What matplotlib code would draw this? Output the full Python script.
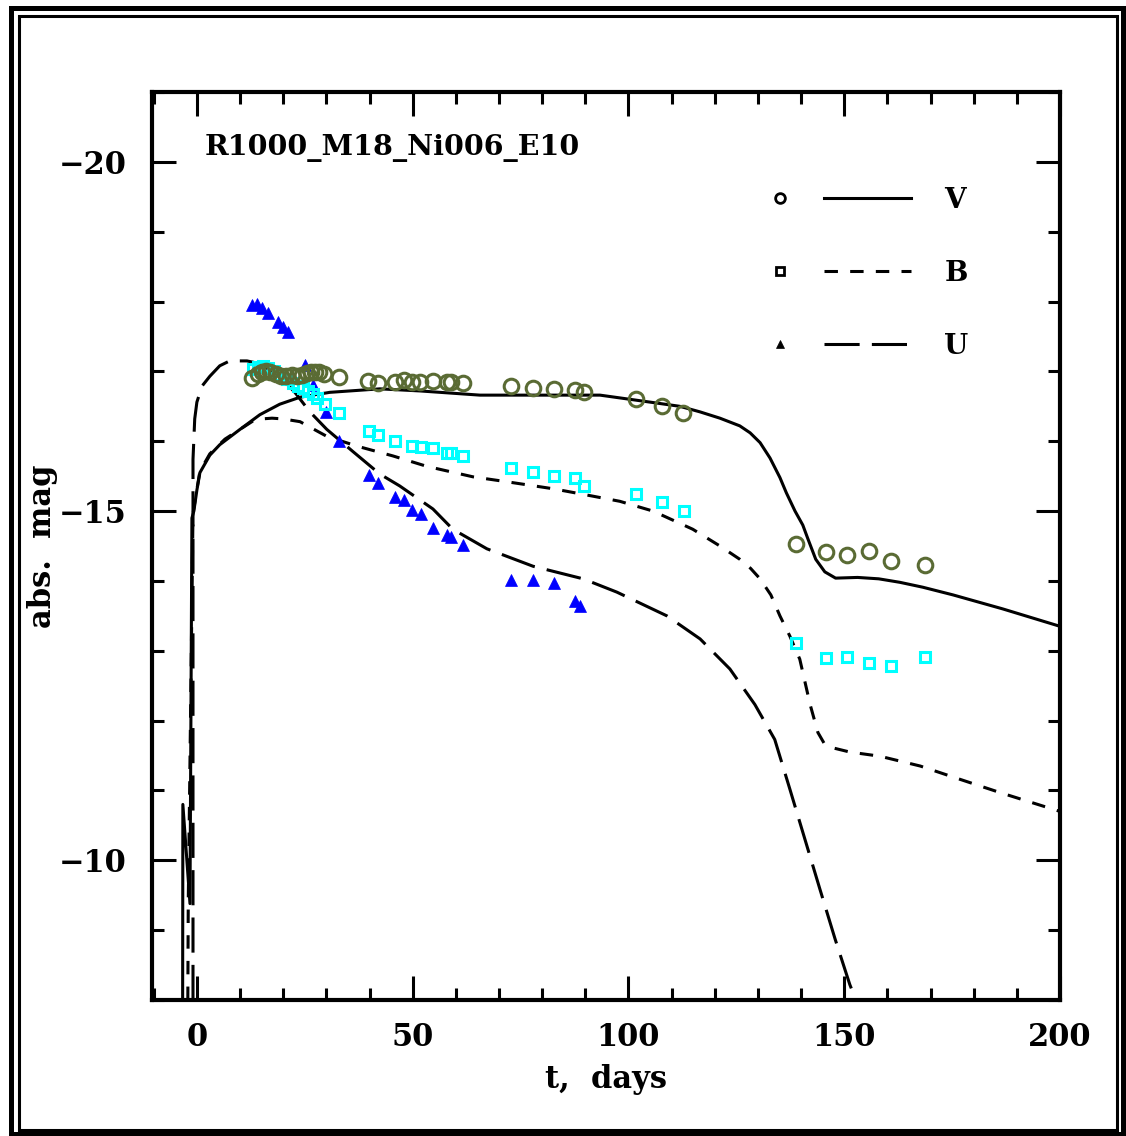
import matplotlib
matplotlib.use('Agg')
import matplotlib.pyplot as plt
from matplotlib.lines import Line2D
from matplotlib.legend_handler import HandlerTuple
from matplotlib.patches import Rectangle
from matplotlib.ticker import MultipleLocator

# observed photometry: days, absolute magnitude
v_t = [12.7, 14.1, 15.1, 16.0, 16.9, 18.3, 19.5, 20.6, 22.0, 23.2, 24.3, 25.5,
       26.4, 27.3, 28.3, 29.4, 32.9, 39.6, 41.9, 45.9, 48.0, 49.8, 51.7, 54.7,
       57.9, 58.9, 61.6, 72.8, 77.9, 82.7, 87.6, 89.7, 101.7, 107.8, 112.6,
       138.8, 145.8, 150.6, 155.7, 160.8, 168.7]
v_mag = [-16.91, -16.96, -16.99, -17.01, -16.99, -16.96, -16.93, -16.93, -16.95,
         -16.93, -16.95, -16.98, -16.99, -16.99, -16.99, -16.96, -16.92, -16.86,
         -16.83, -16.85, -16.88, -16.85, -16.85, -16.86, -16.85, -16.85, -16.83,
         -16.79, -16.76, -16.75, -16.73, -16.70, -16.60, -16.50, -16.40,
         -14.53, -14.41, -14.37, -14.43, -14.28, -14.23]

b_t = [13.0, 14.1, 15.3, 16.5, 17.8, 19.2, 20.9, 22.2, 23.4, 24.6, 25.7, 26.9,
       27.8, 29.7, 32.9, 39.9, 41.9, 45.9, 49.8, 51.9, 54.7, 57.9, 58.9, 61.6,
       72.8, 77.9, 82.7, 87.6, 89.7, 101.7, 107.8, 112.9,
       138.8, 145.8, 150.6, 155.7, 160.8, 168.7]
b_mag = [-17.03, -17.06, -17.08, -17.05, -17.01, -16.95, -16.89, -16.83, -16.79,
         -16.76, -16.72, -16.68, -16.62, -16.53, -16.40, -16.15, -16.09, -16.00,
         -15.93, -15.92, -15.90, -15.83, -15.83, -15.79, -15.62, -15.56, -15.50,
         -15.47, -15.36, -15.24, -15.13, -15.00,
         -13.11, -12.89, -12.91, -12.82, -12.78, -12.91]

u_t = [12.7, 13.9, 15.1, 16.5, 18.8, 19.9, 21.1, 25.0, 26.9, 29.9, 32.9, 39.9,
       41.9, 45.9, 48.0, 49.8, 51.9, 54.7, 57.9, 58.9, 61.6, 72.8, 77.9, 82.7,
       87.6, 88.8]
u_mag = [-17.95, -17.97, -17.91, -17.84, -17.71, -17.64, -17.56, -17.09, -16.81,
         -16.42, -16.00, -15.52, -15.40, -15.20, -15.16, -15.01, -14.96, -14.76,
         -14.66, -14.63, -14.51, -14.01, -14.01, -13.97, -13.71, -13.64]

# model light curves
vm_t = [-3.3, -3.25, -1.6, -1.15, -0.7, 0.0, 0.7, 3.0, 5.3, 10.0, 14.6, 19.2,
        23.9, 30.8, 42.4, 51.7, 65.6, 84.1, 93.4, 102.7, 111.9, 116.6, 121.2,
        125.8, 128.2, 130.5, 132.8, 135.1, 136.6, 138.6, 140.4, 141.6, 143.4,
        145.5, 148.0, 153.1, 158.0, 162.9, 168.2, 175.2, 186.7, 200.0]
vm_mag = [-8.0, -10.8, -9.38, -14.9, -15.0, -15.3, -15.55, -15.8, -15.95, -16.17,
          -16.38, -16.53, -16.63, -16.70, -16.75, -16.72, -16.66, -16.66, -16.66,
          -16.58, -16.50, -16.42, -16.33, -16.22, -16.12, -15.98, -15.76, -15.48,
          -15.26, -15.00, -14.80, -14.60, -14.31, -14.13, -14.04, -14.05, -14.03,
          -13.98, -13.91, -13.80, -13.60, -13.35]

bm_t = [-2.1, -2.0, -0.9, 0.0, 0.7, 3.0, 6.5, 10.0, 13.0, 15.1, 17.4, 19.9,
        23.9, 30.1, 37.1, 45.4, 53.3, 64.0, 71.8, 82.5, 89.5, 98.0, 105.7,
        114.9, 121.2, 125.8, 128.3, 130.5, 133.0, 135.1, 137.4, 139.7, 142.1,
        143.9, 145.3, 146.7, 151.3, 158.3, 167.6, 176.8, 186.1, 200.0]
bm_mag = [-8.0, -9.4, -14.96, -15.31, -15.57, -15.82, -16.03, -16.17, -16.29,
          -16.32, -16.33, -16.32, -16.28, -16.07, -15.93, -15.79, -15.64, -15.49,
          -15.42, -15.32, -15.24, -15.14, -15.00, -14.74, -14.50, -14.31, -14.18,
          -14.03, -13.80, -13.50, -13.21, -12.88, -12.23, -11.83, -11.68, -11.62,
          -11.55, -11.49, -11.35, -11.16, -10.97, -10.70]

um_t = [-0.9, -0.9, -0.5, 0.0, 1.2, 3.0, 5.3, 7.6, 11.6, 14.6, 19.2, 22.7, 26.2,
        30.1, 36.2, 42.4, 47.0, 54.7, 59.3, 67.2, 77.9, 89.5, 97.3, 108.9,
        116.6, 123.5, 129.3, 133.9, 137.4, 140.9, 144.4, 147.9, 151.3, 152.7]
um_mag = [-8.0, -15.74, -16.32, -16.56, -16.79, -16.93, -17.08, -17.15, -17.15,
          -17.11, -16.93, -16.70, -16.42, -16.17, -15.85, -15.53, -15.36, -15.03,
          -14.74, -14.46, -14.21, -14.03, -13.84, -13.50, -13.17, -12.74, -12.23,
          -11.73, -11.02, -10.30, -9.58, -8.87, -8.22, -8.0]

model_name = 'R1000_M18_Ni006_E10'
band_names = ['V', 'B', 'U']

olive = '#5a6b34'
cyan = '#00ffff'
blue = '#0000ff'

plt.rcParams['font.family'] = 'DejaVu Serif'
plt.rcParams['font.weight'] = 'bold'

W, H = 1126, 1136
fig = plt.figure(figsize=(W / 100, H / 100), dpi=100)
ax = fig.add_axes([152 / W, 1 - 1000 / H, 908 / W, 908 / H])

lw = 2.2
ax.plot(vm_t, vm_mag, color='black', lw=lw, solid_joinstyle='round')
ax.plot(bm_t, bm_mag, color='black', lw=lw, dashes=(4.4, 4.0))
ax.plot(um_t, um_mag, color='black', lw=lw, dashes=(11.5, 4.0))

ax.plot(u_t, u_mag, ls='none', marker='^', ms=8.5, color=blue, mec=blue, mew=0.5)
ax.plot(b_t, b_mag, ls='none', marker='s', ms=7, mfc='none', mec=cyan, mew=2.2)
ax.plot(v_t, v_mag, ls='none', marker='o', ms=10.5, mfc='none', mec=olive, mew=2.2)

ax.set_xlim(-10.4, 200)
ax.set_ylim(-8, -21)

ax.xaxis.set_major_locator(MultipleLocator(50))
ax.xaxis.set_minor_locator(MultipleLocator(10))
ax.yaxis.set_major_locator(MultipleLocator(5))
ax.yaxis.set_minor_locator(MultipleLocator(1))
ax.tick_params(which='both', direction='in', top=True, right=True, width=2.2)
ax.tick_params(which='major', length=17, labelsize=22)
ax.tick_params(which='minor', length=8.5)
ax.tick_params(axis='x', which='major', pad=16)
ax.tick_params(axis='y', which='major', pad=18)
for s in ax.spines.values():
    s.set_linewidth(3)

ax.set_xlabel('t,  days', fontsize=22, fontweight='bold')
ax.set_ylabel('abs.  mag', fontsize=22, fontweight='bold')
ax.xaxis.set_label_coords(0.5, -0.07)
ax.yaxis.set_label_coords(-0.103, 0.5)

ax.text(1.9, -20.2, model_name, fontsize=20.5, fontweight='bold', va='center', ha='left')

handles = []
for mk, ms, ls in [('o', 7, '-'), ('s', 5.5, (0, (4.4, 4.0))), ('^', 6, (0, (11.5, 4.0)))]:
    m = Line2D([], [], ls='none', marker=mk, ms=ms, mfc='none' if mk != '^' else 'black',
               mec='black', mew=2 if mk != '^' else 0.5)
    l = Line2D([], [], color='black', lw=lw, ls=ls)
    handles.append((m, l))
ax.legend(handles, band_names, handler_map={tuple: HandlerTuple(ndivide=2, pad=0)},
          loc='upper left', bbox_to_anchor=((736 - 152) / 908, (1000 - 187) / 908),
          frameon=False, fontsize=20, handlelength=6.3, handletextpad=1.2,
          labelspacing=1.65, borderpad=0, borderaxespad=0, numpoints=1)

# double frame around the whole figure
def frame(x0, y0, x1, y1, w):
    fig.add_artist(Rectangle((x0 / W, 1 - y1 / H), (x1 - x0) / W, (y1 - y0) / H,
                             transform=fig.transFigure, fill=False, lw=w, ec='black'))

frame(10.5, 7.5, 1123, 1133.5, 3.6)
frame(18.5, 15.5, 1117, 1130, 2.2)

fig.savefig('out.png', dpi=100)
